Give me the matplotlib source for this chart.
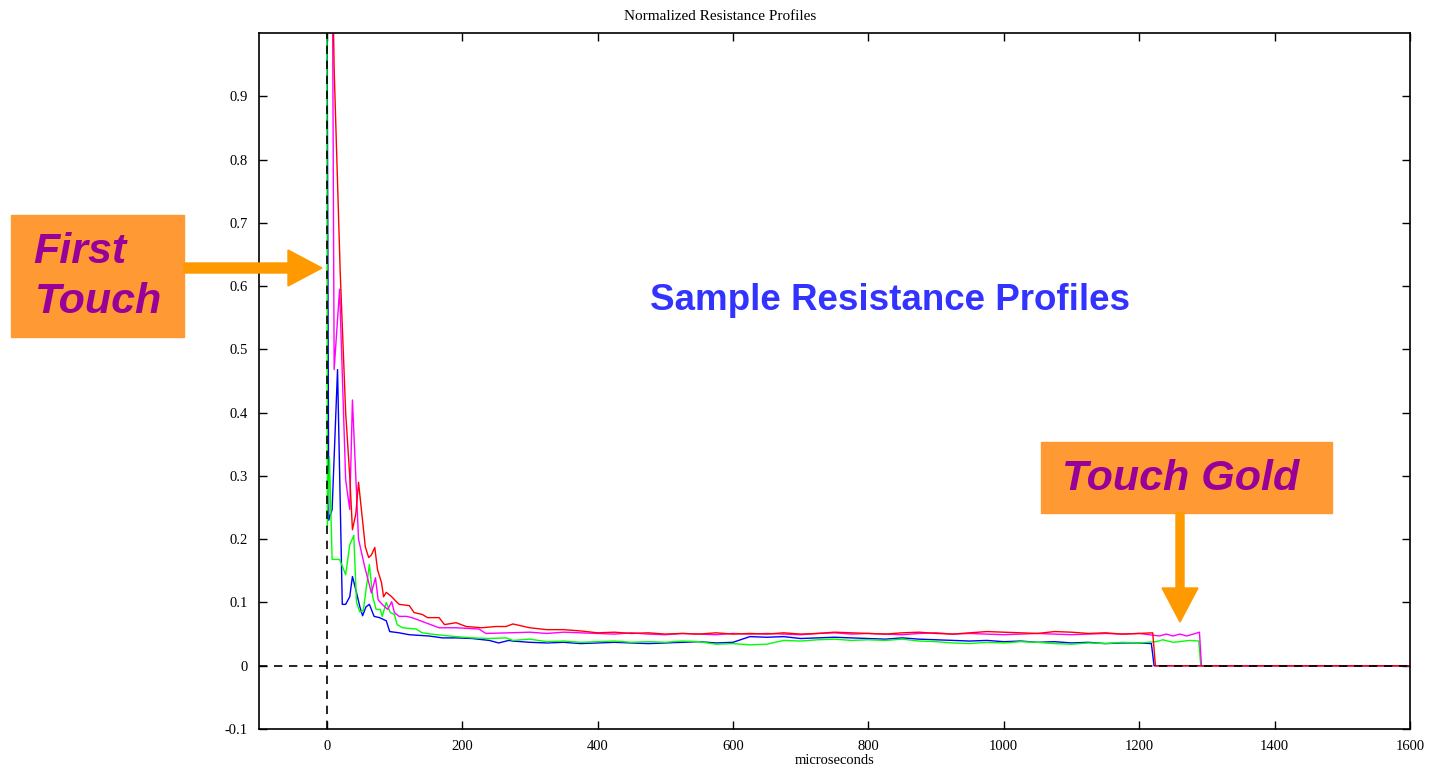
import matplotlib
matplotlib.use("Agg")
import matplotlib.pyplot as plt
from matplotlib.patches import Rectangle, FancyArrow

# ---- data (time in microseconds, normalized resistance) ----
t_red = [0, 7, 11, 20, 28, 34, 38, 43, 47, 57, 62, 66, 71, 75, 81, 84, 88, 96, 104,
         107, 122, 129, 141, 149, 166, 174, 191, 206, 229, 250, 265,
         275, 300, 325, 350, 375, 400, 425, 450, 475, 500, 525, 550, 575, 600, 625,
         650, 675, 700, 725, 750, 775, 800, 825, 850, 875, 900, 925, 950, 975, 1000,
         1025, 1050, 1075, 1100, 1125, 1150, 1175, 1200, 1220, 1224, 1600]
v_red = [1.2, 1.2, 0.943, 0.62, 0.40, 0.30, 0.215, 0.24, 0.29, 0.188, 0.171, 0.175, 0.187, 0.152, 0.131, 0.109, 0.116, 0.109, 0.10,
         0.097, 0.095, 0.084, 0.081, 0.076, 0.076, 0.065, 0.068, 0.062, 0.060, 0.062, 0.062,
         0.066, 0.060, 0.057, 0.057, 0.055, 0.052, 0.053, 0.051, 0.052, 0.050, 0.051, 0.050, 0.052, 0.050, 0.051,
         0.050, 0.052, 0.050, 0.051, 0.053, 0.052, 0.051, 0.050, 0.052, 0.053, 0.051, 0.050, 0.052, 0.054, 0.053,
         0.052, 0.051, 0.054, 0.053, 0.051, 0.052, 0.050, 0.051, 0.052, 0.0, 0.0]

t_mag = [0, 8, 11, 19, 28, 34, 38, 47, 56, 66, 72, 76, 82, 90, 96, 100, 107, 118, 126,
         141, 166, 191, 225, 235, 269,
         300, 325, 350, 375, 400, 425, 450, 475, 500, 525, 550, 575, 600, 625,
         650, 675, 700, 725, 750, 775, 800, 825, 850, 875, 900, 925, 950, 975, 1000,
         1025, 1050, 1075, 1100, 1125, 1150, 1175, 1200, 1230, 1240, 1250, 1260, 1270, 1280, 1289, 1292, 1600]
v_mag = [1.2, 1.2, 0.468, 0.595, 0.294, 0.247, 0.42, 0.20, 0.157, 0.115, 0.139, 0.104, 0.097, 0.089, 0.101, 0.084, 0.078, 0.078, 0.076,
         0.070, 0.060, 0.060, 0.058, 0.051, 0.052,
         0.053, 0.051, 0.053, 0.052, 0.051, 0.050, 0.052, 0.050, 0.049, 0.051, 0.050, 0.049, 0.051, 0.050,
         0.051, 0.050, 0.049, 0.051, 0.052, 0.050, 0.051, 0.050, 0.049, 0.051, 0.052, 0.050, 0.051, 0.050, 0.049,
         0.050, 0.051, 0.050, 0.049, 0.050, 0.051, 0.050, 0.051, 0.047, 0.050, 0.047, 0.050, 0.047, 0.050, 0.053, 0.0, 0.0]

t_grn = [0, 1, 4, 8, 19, 28, 34, 40, 44, 49, 54, 63, 68, 73, 79, 82, 88, 94, 100,
         104, 112, 132, 141, 162, 191, 215, 240, 265,
         275, 300, 325, 350, 375, 400, 425, 450, 475, 500, 525, 550, 575, 600, 625,
         650, 675, 700, 725, 750, 775, 800, 825, 850, 875, 900, 925, 950, 975, 1000,
         1025, 1050, 1075, 1100, 1125, 1150, 1175, 1200, 1225, 1235, 1250, 1275, 1288, 1291, 1600]
v_grn = [1.2, 0.22, 0.33, 0.168, 0.168, 0.144, 0.191, 0.206, 0.10, 0.085, 0.087, 0.16, 0.109, 0.089, 0.089, 0.078, 0.10, 0.084, 0.081,
         0.065, 0.060, 0.058, 0.052, 0.049, 0.046, 0.044, 0.043, 0.044,
         0.040, 0.042, 0.038, 0.039, 0.037, 0.038, 0.039, 0.037, 0.038, 0.037, 0.039, 0.038, 0.034, 0.035, 0.033,
         0.034, 0.040, 0.039, 0.041, 0.042, 0.040, 0.041, 0.040, 0.042, 0.039, 0.038, 0.036, 0.035, 0.037, 0.036,
         0.038, 0.037, 0.035, 0.034, 0.036, 0.035, 0.037, 0.036, 0.038, 0.041, 0.037, 0.040, 0.039, 0.0, 0.0]

t_blu = [0, 3, 8, 16, 23, 28, 34, 38, 43, 49, 53, 58, 63, 70, 78, 88, 93,
         107, 122, 151, 171, 191, 215, 240, 254, 269,
         275, 300, 325, 350, 375, 400, 425, 450, 475, 500, 525, 550, 575, 600, 625,
         650, 675, 700, 725, 750, 775, 800, 825, 850, 875, 900, 925, 950, 975, 1000,
         1025, 1050, 1075, 1100, 1125, 1150, 1175, 1200, 1218, 1222, 1600]
v_blu = [1.2, 0.23, 0.247, 0.468, 0.097, 0.097, 0.109, 0.141, 0.12, 0.093, 0.079, 0.093, 0.097, 0.078, 0.076, 0.071, 0.054,
         0.052, 0.049, 0.047, 0.044, 0.044, 0.043, 0.040, 0.036, 0.040,
         0.039, 0.037, 0.036, 0.037, 0.035, 0.036, 0.037, 0.036, 0.035, 0.036, 0.037, 0.038, 0.036, 0.037, 0.046,
         0.045, 0.046, 0.043, 0.044, 0.045, 0.044, 0.043, 0.042, 0.044, 0.042, 0.041, 0.040, 0.039, 0.040, 0.038,
         0.039, 0.037, 0.038, 0.036, 0.037, 0.035, 0.036, 0.036, 0.035, 0.0, 0.0]

yticks = [-0.1, 0, 0.1, 0.2, 0.3, 0.4, 0.5, 0.6, 0.7, 0.8, 0.9]
ytick_labels = ["-0.1", "0", "0.1", "0.2", "0.3", "0.4", "0.5", "0.6", "0.7", "0.8", "0.9"]
xticks = [0, 200, 400, 600, 800, 1000, 1200, 1400, 1600]

W, H = 1437, 777
fig = plt.figure(figsize=(W / 100, H / 100), dpi=100)
ax = fig.add_axes([259 / W, 48 / H, (1410 - 259) / W, (729 - 33) / H])

ax.plot(t_blu, v_blu, color="#0000ff", lw=1.0)
ax.plot(t_grn, v_grn, color="#00ff00", lw=1.0)
ax.plot(t_mag, v_mag, color="#ff00ff", lw=1.0)
ax.plot(t_red, v_red, color="#ff0000", lw=1.0)

ax.axhline(0, color="black", lw=1.2, ls=(0, (5, 4)), zorder=5)
ax.axvline(0, color="black", lw=1.2, ls=(0, (5, 4)), zorder=5)

ax.set_xlim(-100, 1600)
ax.set_ylim(-0.1, 1.0)
ax.set_xticks(xticks)
ax.set_yticks(yticks)
ax.set_yticklabels(ytick_labels)
ax.tick_params(direction="in", top=True, right=True, length=6, width=1,
               labelsize=10.5, pad=8)
for lab in ax.get_xticklabels() + ax.get_yticklabels():
    lab.set_family("Liberation Serif")
for s in ax.spines.values():
    s.set_linewidth(1.2)

ax.set_xlabel("microseconds", family="Liberation Serif", fontsize=10.5, labelpad=1)
fig.text(720 / W, 1 - 16 / H, "Normalized Resistance Profiles", family="Liberation Serif",
         fontsize=11, ha="center", va="center")

# ---- annotation boxes and arrows (figure pixel coordinates) ----
def fx(px):
    return px / W

def fy(py):
    return 1 - py / H

orange_box = "#ff9933"
orange_arrow = "#ff9900"
purple = "#990099"

fig.patches.append(Rectangle((fx(11), fy(337)), (184 - 11) / W, (337 - 215) / H,
                             transform=fig.transFigure, color=orange_box, zorder=1))
fig.text(fx(33), fy(252), "First", color=purple, fontsize=31, fontweight="bold",
         fontstyle="italic", family="Liberation Sans", ha="left", va="center")
fig.text(fx(35), fy(302), "Touch", color=purple, fontsize=31, fontweight="bold",
         fontstyle="italic", family="Liberation Sans", ha="left", va="center")
fig.patches.append(FancyArrow(fx(184), fy(268), fx(322) - fx(184), 0,
                              width=10 / H, head_width=36 / H, head_length=34 / W,
                              length_includes_head=True, transform=fig.transFigure,
                              color=orange_arrow, zorder=2))

fig.patches.append(Rectangle((fx(1041), fy(513)), (1332 - 1041) / W, (513 - 442) / H,
                             transform=fig.transFigure, color=orange_box, zorder=1))
fig.text(fx(1181), fy(479), "Touch Gold", color=purple, fontsize=31, fontweight="bold",
         fontstyle="italic", family="Liberation Sans", ha="center", va="center")
fig.patches.append(FancyArrow(fx(1180), fy(513), 0, fy(622) - fy(513),
                              width=8 / W, head_width=36 / W, head_length=34 / H,
                              length_includes_head=True, transform=fig.transFigure,
                              color=orange_arrow, zorder=2))

fig.text(fx(890), fy(300), "Sample Resistance Profiles", color="#3333ff", fontsize=26.5,
         fontweight="bold", family="Liberation Sans", ha="center", va="center")

fig.savefig("out.png", dpi=100)
